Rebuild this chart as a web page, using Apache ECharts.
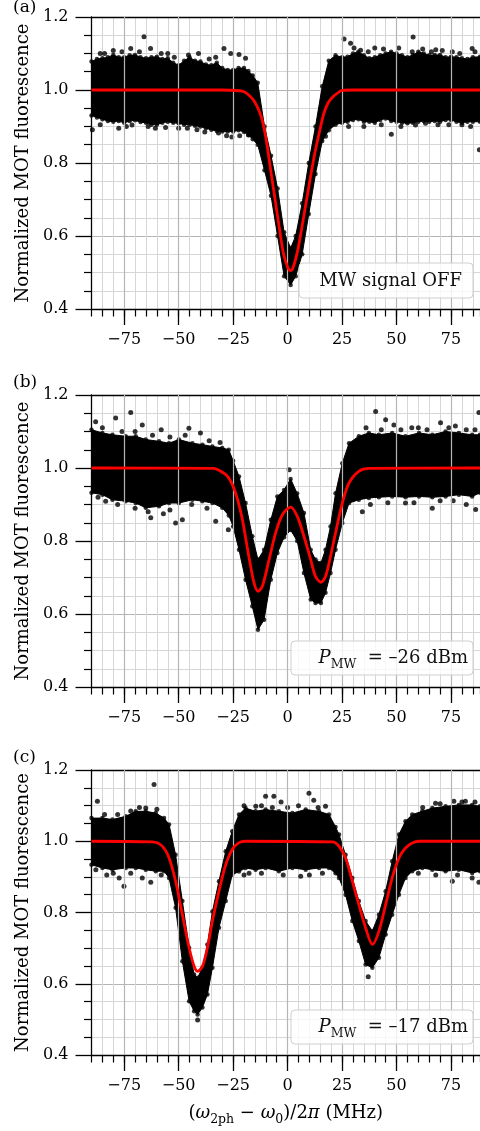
<!DOCTYPE html>
<html><head><meta charset="utf-8">
<script src="https://cdn.jsdelivr.net/npm/echarts@6.0.0/dist/echarts.min.js"></script>
<style>html,body{margin:0;padding:0;background:#fff;}#chart{width:480px;height:1131px;}</style>
</head><body><div id="chart"></div>
<script>
// ---------- data ----------
const xTicks = [-75, -50, -25, 0, 25, 50, 75];
const yTicks = [0.4, 0.6, 0.8, 1.0, 1.2];
const X_MIN = -90, X_MAX = 88.3;
const panelLabels = ['(a)', '(b)', '(c)'];
const yTitle = 'Normalized MOT fluorescence';
const legendA = 'MW signal OFF';
const powerB = '\u201326 dBm';
const powerC = '\u201317 dBm';

// Panel (a): fit
const fitAX = [-90,-30,-22,-20,-18,-16,-14,-12,-10,-8,-6,-4,-2,0,1.3,2.6,4.6,6.6,8.6,10.6,12.6,14.6,16.6,18.6,20.6,22.6,25,30,88.3];
const fitAY = [1.0,1.0,0.998,0.995,0.987,0.975,0.955,0.925,0.87,0.79,0.71,0.63,0.555,0.515,0.505,0.515,0.56,0.625,0.695,0.765,0.83,0.885,0.935,0.965,0.98,0.99,0.999,1.0,1.0];
// Panel (a): dense data band (upper / lower edge)
const bandAX = [-90,-87.5,-85,-82.5,-80,-77.5,-75,-72.5,-70,-67.5,-65,-62.5,-60,-57.5,-55,-52.5,-50,-47.5,-45,-42.5,-40,-37.5,-35,-32.5,-30,-27.5,-25,-22.5,-20,-18,-16,-13.7,-10.6,-7.6,-4.6,-1.6,1.4,3.7,6.7,9.7,12.8,15.9,18.9,22,25,27.5,30,32.5,35,37.5,40,42.5,45,47.5,50,52.5,55,57.5,60,62.5,65,67.5,70,72.5,75,77.5,80,82.5,85,88.3];
const bandAHi = [1.078,1.085,1.087,1.09,1.096,1.09,1.09,1.095,1.096,1.09,1.087,1.09,1.091,1.085,1.087,1.075,1.068,1.08,1.09,1.08,1.078,1.07,1.068,1.075,1.06,1.055,1.055,1.06,1.06,1.052,1.04,1.02,0.90,0.82,0.73,0.61,0.567,0.60,0.69,0.80,0.90,1.01,1.08,1.095,1.09,1.091,1.10,1.105,1.095,1.087,1.09,1.095,1.10,1.105,1.10,1.095,1.09,1.096,1.105,1.10,1.095,1.096,1.096,1.09,1.091,1.09,1.087,1.085,1.09,1.091];
const bandALo = [0.93,0.925,0.92,0.915,0.913,0.915,0.91,0.915,0.917,0.912,0.91,0.905,0.905,0.91,0.913,0.91,0.909,0.905,0.905,0.902,0.90,0.895,0.891,0.888,0.886,0.886,0.886,0.89,0.885,0.877,0.865,0.85,0.78,0.71,0.60,0.49,0.466,0.49,0.55,0.66,0.77,0.86,0.89,0.905,0.91,0.913,0.918,0.92,0.913,0.913,0.91,0.918,0.922,0.915,0.913,0.91,0.909,0.91,0.913,0.915,0.913,0.915,0.913,0.918,0.918,0.913,0.91,0.913,0.913,0.913];
// Panel (a): scattered outlying points
const outAX = [-65.9,-72,-29.2,-26.1,-22.3,-62.9,-19.3,-45.5,-40.9,-84,-55,25.9,28.9,57.6,33.5,57.2,75.6,84.7,40,68,-89.6,-77.5,-71.4,-60.7,-41.6,-31.7,-25.6,-17.9,-50,17.4,47.6,88,58.7,63.3,80,35,
  -86,-80,-76,-68,-58,-52,-36,-33,30.5,37,44,51,62,66,71,79,86,-86,-74,-64,-56,-46,-38,-28,-22,28,43,52,69,74,84];
const outAY = [1.146,1.114,1.114,1.1,1.097,1.114,1.087,1.096,1.1,1.1,1.1,1.14,1.128,1.145,1.109,1.105,1.105,1.114,1.115,1.11,0.891,0.895,0.904,0.895,0.891,0.882,0.871,0.877,0.895,0.873,0.879,0.836,0.904,0.909,0.905,0.9,
  1.1,1.108,1.105,1.105,1.1,1.09,1.085,1.09,1.115,1.105,1.112,1.115,1.112,1.105,1.108,1.1,1.105,0.905,0.9,0.9,0.897,0.895,0.885,0.875,0.875,0.9,0.905,0.9,0.905,0.905,0.9];

// Panel (b)
const fitBX = [-90,-34,-31.5,-28,-25.4,-23,-20.8,-17.7,-15.4,-13.6,-11.6,-8.5,-5.5,-2.4,1.4,4.4,7.5,10.6,12.8,15.3,17.4,19.7,22.0,25.1,28.2,32.7,37.3,88.3];
const fitBY = [1.0,0.999,0.994,0.98,0.955,0.915,0.86,0.755,0.685,0.662,0.676,0.749,0.822,0.872,0.893,0.868,0.813,0.749,0.703,0.687,0.703,0.758,0.822,0.904,0.959,0.991,0.999,1.0];
const bandBX = [-90,-85,-80.4,-74.3,-69.7,-65.1,-59,-54.4,-49.9,-43.7,-39.1,-34.5,-30,-27,-25,-22.3,-19.3,-16.2,-13.6,-10.8,-7.7,-4.7,-1.6,1.4,4.4,7.5,10.6,12.8,15.3,17.4,19.7,22,25.1,28.2,32.7,37.3,41.9,48,54.1,60.3,66.4,72.5,78.6,84.7,88.3];
const bandBHi = [1.105,1.096,1.091,1.087,1.087,1.078,1.073,1.068,1.078,1.068,1.064,1.059,1.055,1.05,1.02,0.977,0.904,0.813,0.749,0.776,0.858,0.922,0.94,0.97,0.93,0.877,0.776,0.749,0.74,0.776,0.84,0.931,1.013,1.068,1.087,1.096,1.091,1.096,1.087,1.096,1.091,1.10,1.096,1.091,1.091];
const bandBLo = [0.932,0.927,0.913,0.909,0.904,0.891,0.895,0.904,0.904,0.913,0.909,0.904,0.891,0.87,0.84,0.776,0.694,0.621,0.557,0.584,0.694,0.767,0.81,0.83,0.80,0.712,0.64,0.63,0.63,0.658,0.712,0.776,0.849,0.904,0.913,0.918,0.92,0.922,0.92,0.922,0.92,0.922,0.927,0.922,0.932];
const outBX = [-78.9,-72,-66.7,-88.1,-45.3,-40,-58,40.4,45,48.8,70.2,87.8,60,77,-62.8,-51.4,-48.3,-83.5,-33,-27.2,-57,66.4,86.3,54.1,34.3,0.7,
  -85,-76,-70,-62,-54,-47,-36,-31,36,43,52,57,64,74,82,86,-87,-78,-70,-64,-54,-44,-37,38,46,58,70,76,82];
const outBY = [1.137,1.152,1.118,1.127,1.109,1.096,1.105,1.155,1.132,1.118,1.124,1.152,1.11,1.115,0.864,0.849,0.858,0.909,0.854,0.831,0.875,0.89,0.886,0.904,0.88,0.995,
  1.11,1.1,1.1,1.09,1.085,1.09,1.075,1.07,1.11,1.105,1.105,1.11,1.105,1.11,1.105,1.105,0.92,0.9,0.89,0.88,0.885,0.9,0.89,0.9,0.905,0.905,0.91,0.91,0.9];

// Panel (c)
const fitCX = [-90,-62.1,-57.5,-54.4,-51.4,-48.3,-45.2,-42.9,-41.3,-39.1,-36.8,-34.5,-31.5,-28.4,-25.4,-22.3,-19.3,20.5,23.6,26.6,29.7,32.7,35.8,38.9,41.9,45.0,48.0,51.1,54.1,57.2,60.3,88.3];
const fitCY = [1.0,0.998,0.986,0.953,0.888,0.794,0.701,0.649,0.635,0.649,0.701,0.776,0.860,0.934,0.977,0.996,1.0,0.998,0.986,0.953,0.888,0.822,0.757,0.71,0.747,0.822,0.897,0.953,0.981,0.995,1.0,1.0];
const bandCX = [-90,-85,-80.4,-74.3,-69.7,-65.1,-60.5,-56.7,-54.4,-51.4,-48.3,-45.2,-42.9,-41.3,-39.1,-36.8,-34.5,-31.5,-28.4,-25.4,-22.3,-19.3,-14.7,-10.1,-4.0,2.2,8.3,14.4,19.0,22,23.6,26.6,29.7,32.7,35.8,38.9,41.9,45,48,51.1,54.1,57.2,61.8,66.4,72.5,78.6,84.7,88.3];
const bandCHi = [1.065,1.065,1.061,1.07,1.084,1.084,1.079,1.065,1.047,0.962,0.832,0.701,0.626,0.617,0.645,0.71,0.803,0.888,0.972,1.028,1.075,1.093,1.084,1.089,1.084,1.079,1.089,1.084,1.075,1.04,1.019,0.962,0.897,0.832,0.776,0.748,0.794,0.86,0.944,1.019,1.056,1.075,1.084,1.093,1.098,1.102,1.102,1.098];
const bandCLo = [0.934,0.925,0.92,0.925,0.925,0.92,0.916,0.916,0.897,0.813,0.663,0.551,0.523,0.514,0.533,0.57,0.645,0.757,0.832,0.906,0.915,0.925,0.92,0.925,0.916,0.925,0.92,0.925,0.925,0.91,0.897,0.85,0.776,0.72,0.654,0.645,0.673,0.738,0.794,0.85,0.897,0.916,0.925,0.92,0.916,0.92,0.911,0.916];
const outCX = [-87.3,-61.3,-65.1,-10.1,-6.3,9.8,-14.6,17.4,-3,12,67.9,76.3,81.6,-75.1,-77.3,-66.7,-62.8,6,-17.7,87.8,75.6,84.7,37,-41.3,-83,
  -84,-78,-72,-68,-60,-20,-12,-7,0,5,14,62,70,80,86,-88,-80,-72,-58,-20,-12,-2,10,16,60,68,78];
const outCY = [1.112,1.159,1.093,1.126,1.126,1.135,1.098,1.098,1.11,1.115,1.107,1.112,1.112,0.874,0.897,0.897,0.885,0.902,0.91,0.885,0.888,0.897,0.62,0.498,0.905,
  1.075,1.075,1.085,1.095,1.09,1.1,1.1,1.095,1.095,1.1,1.095,1.095,1.105,1.11,1.11,0.92,0.91,0.91,0.905,0.905,0.91,0.905,0.905,0.91,0.91,0.905,0.905];

// ---------- build chart ----------
const FONT = 'DejaVu Serif';
const pairs = (xs, ys) => xs.map((x, i) => [x, ys[i]]);
const panels = [
  {fitX: fitAX, fitY: fitAY, bandX: bandAX, hi: bandAHi, lo: bandALo, outX: outAX, outY: outAY},
  {fitX: fitBX, fitY: fitBY, bandX: bandBX, hi: bandBHi, lo: bandBLo, outX: outBX, outY: outBY},
  {fitX: fitCX, fitY: fitCY, bandX: bandCX, hi: bandCHi, lo: bandCLo, outX: outCX, outY: outCY}
];
const layout = [
  {top: 17, height: 292, labelY: 8},
  {top: 395, height: 292, labelY: 382.5},
  {top: 770, height: 285, labelY: 757.5}
];
const fmtX = v => (v < 0 ? '\u2212' + (-v) : String(v));
const axisLineStyle = {color: '#000', width: 1.3};

const grid = [], xAxis = [], yAxis = [], series = [], graphic = [];
layout.forEach((L, i) => {
  grid.push({left: 91.5, width: 388.5, top: L.top, height: L.height, containLabel: false, outerBoundsMode: 'none'});
  // minor (5 MHz) ticks + light grid
  xAxis.push({gridIndex: i, type: 'value', min: X_MIN, max: X_MAX, interval: 5, position: 'bottom',
    axisLine: {show: true, onZero: false, lineStyle: axisLineStyle},
    axisTick: {show: true, length: 7.5, lineStyle: {color: '#000', width: 1.2}},
    axisLabel: {show: false},
    splitLine: {show: true, lineStyle: {color: '#d6d6d6', width: 1}}});
  // major ticks + labels
  const major = {gridIndex: i, type: 'value', min: X_MIN, max: X_MAX, position: 'bottom',
    axisLine: {show: false, onZero: false},
    axisTick: {show: true, length: 16, customValues: xTicks, lineStyle: {color: '#000', width: 1.3}},
    axisLabel: {show: true, customValues: xTicks, margin: 23, fontFamily: FONT, fontSize: 16, color: '#000', formatter: fmtX},
    splitLine: {show: false}};
  if (i === 2) {
    major.name = '{n|(}{i|\u03c9}{s|2ph}{n| \u2212 }{i|\u03c9}{s|0}{n|)/2}{i|\u03c0}{n| (MHz)}';
    major.nameLocation = 'middle';
    major.nameGap = 45;
    major.nameTextStyle = {fontFamily: FONT, fontSize: 18, color: '#000', rich: {
      n: {fontFamily: FONT, fontSize: 18, color: '#000', lineHeight: 26, verticalAlign: 'middle'},
      i: {fontFamily: FONT, fontSize: 18, fontStyle: 'italic', color: '#000', lineHeight: 26, verticalAlign: 'middle'},
      s: {fontFamily: FONT, fontSize: 12.5, color: '#000', lineHeight: 14, verticalAlign: 'bottom'}
    }};
  }
  xAxis.push(major);
  // top spine
  xAxis.push({gridIndex: i, type: 'value', min: X_MIN, max: X_MAX, position: 'top',
    axisLine: {show: true, onZero: false, lineStyle: axisLineStyle},
    axisTick: {show: false}, axisLabel: {show: false}, splitLine: {show: false}});

  yAxis.push({gridIndex: i, type: 'value', min: yTicks[0], max: yTicks[yTicks.length - 1], interval: 0.2,
    axisLine: {show: true, onZero: false, lineStyle: axisLineStyle},
    axisTick: {show: true, length: 16, lineStyle: {color: '#000', width: 1.3}},
    minorTick: {show: true, splitNumber: 4, length: 7.5, lineStyle: {color: '#000', width: 1.2}},
    axisLabel: {show: true, margin: 23, fontFamily: FONT, fontSize: 16, color: '#000', formatter: v => v.toFixed(1)},
    splitLine: {show: true, lineStyle: {color: '#b5b5b5', width: 1.2}},
    minorSplitLine: {show: true, lineStyle: {color: '#d6d6d6', width: 1}},
    name: yTitle, nameLocation: 'middle', nameGap: 58,
    nameTextStyle: {fontFamily: FONT, fontSize: 18, color: '#000'}});

  const p = panels[i];
  const xi = 3 * i;
  // major vertical grid lines
  series.push({type: 'line', xAxisIndex: xi, yAxisIndex: i, data: [], z: 1, silent: true,
    markLine: {symbol: 'none', silent: true, animation: false, label: {show: false},
      lineStyle: {color: '#b5b5b5', width: 1.2, type: 'solid'},
      emphasis: {disabled: true},
      data: xTicks.map(v => ({xAxis: v}))}});
  // dense band of measured points
  series.push({type: 'custom', xAxisIndex: xi, yAxisIndex: i, z: 2, silent: true,
    data: [[p.bandX[0], p.hi[0]]], encode: {x: 0, y: 1},
    renderItem: function (params, api) {
      const top = p.bandX.map((x, k) => api.coord([x, p.hi[k]]));
      const bot = p.bandX.map((x, k) => api.coord([x, p.lo[k]])).reverse();
      return {type: 'polygon', shape: {points: top.concat(bot)}, style: {fill: '#000', stroke: '#000', lineWidth: 1}};
    }});
  // dots along the band edges
  series.push({type: 'scatter', xAxisIndex: xi, yAxisIndex: i, z: 3, silent: true,
    symbol: 'circle', symbolSize: 4.5, itemStyle: {color: '#000'},
    data: pairs(p.bandX, p.hi).concat(pairs(p.bandX, p.lo))});
  // outlying dots
  series.push({type: 'scatter', xAxisIndex: xi, yAxisIndex: i, z: 3, silent: true,
    symbol: 'circle', symbolSize: 5, itemStyle: {color: '#000'},
    data: pairs(p.outX, p.outY)});
  // fit
  series.push({type: 'line', xAxisIndex: xi, yAxisIndex: i, z: 5, silent: true,
    data: pairs(p.fitX, p.fitY), showSymbol: false, smooth: 0.3,
    lineStyle: {color: '#ff0000', width: 2.8}});

  graphic.push({type: 'text', x: 13, y: L.labelY, z: 100,
    style: {text: panelLabels[i], fontFamily: FONT, fontSize: 17, fill: '#000', verticalAlign: 'middle', align: 'left'}});
});

// legend boxes
const boxStyle = {fill: 'rgba(255,255,255,0.8)', stroke: '#cfcfcf', lineWidth: 1};
graphic.push({type: 'rect', z: 100, shape: {x: 299, y: 263, width: 174, height: 35, r: 4}, style: boxStyle});
graphic.push({type: 'text', z: 101, x: 462, y: 281,
  style: {text: legendA, fontFamily: FONT, fontSize: 18, fill: '#111', align: 'right', verticalAlign: 'middle'}});
const richP = {
  p: {fontFamily: FONT, fontSize: 18, fontStyle: 'italic', fill: '#111', lineHeight: 26, verticalAlign: 'middle'},
  s: {fontFamily: FONT, fontSize: 12.5, fill: '#111', lineHeight: 14, verticalAlign: 'bottom'},
  r: {fontFamily: FONT, fontSize: 18, fill: '#111', lineHeight: 26, verticalAlign: 'middle'}
};
[[641, powerB], [1010, powerC]].forEach(([y0, txt]) => {
  graphic.push({type: 'rect', z: 100, shape: {x: 291, y: y0, width: 182, height: 34, r: 4}, style: boxStyle});
  graphic.push({type: 'text', z: 101, x: 468, y: y0 + 17,
    style: {text: '{p|P}{s|MW}{r|  = ' + txt + '}', rich: richP, align: 'right', verticalAlign: 'middle'}});
});

const chart = echarts.init(document.getElementById('chart'), null, {renderer: 'canvas'});
chart.setOption({animation: false, backgroundColor: '#fff', grid, xAxis, yAxis, series, graphic});
</script></body></html>
